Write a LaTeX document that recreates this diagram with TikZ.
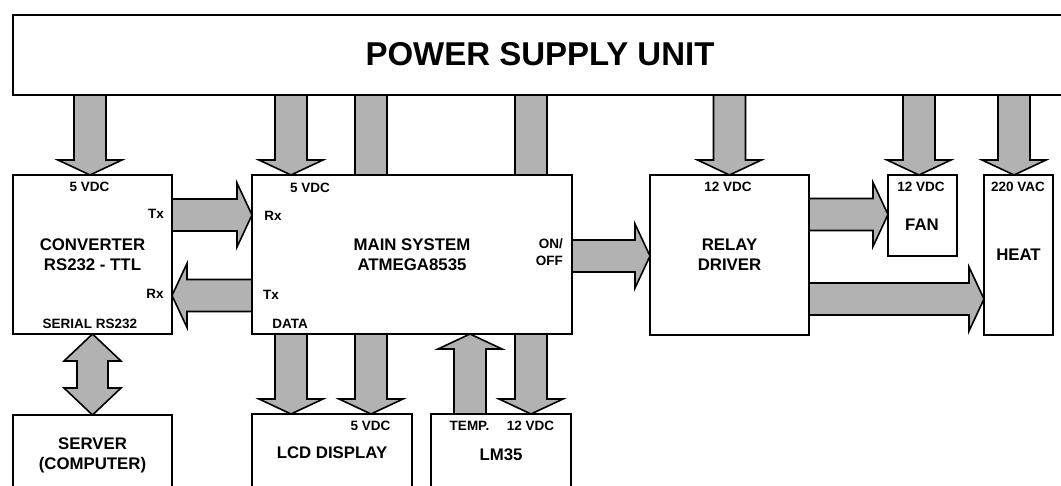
\documentclass[tikz,border=0pt]{standalone}
\usepackage{fontspec}
\setmainfont{Liberation Sans}
\usetikzlibrary{calc}
\newcommand\smallf{\fontsize{13.5}{15}\selectfont\bfseries}
\newcommand\midf{\fontsize{16.8}{20}\selectfont\bfseries}
\newcommand\bigf{\fontsize{33}{38}\selectfont\bfseries}
\tikzset{
  blk/.style={draw=black, line width=1.8pt, fill=white, rectangle, inner sep=0pt, outer sep=0pt, anchor=north west, align=center, font=\midf},
  fat/.style={draw=black, line width=1.6pt, fill=black!30, line join=miter},
  lbl/.style={font=\smallf, inner sep=0pt, text height=9.7pt, text depth=0pt},
  midlbl/.style={font=\midf, inner sep=0pt, text height=12pt, text depth=0pt},
}
% single block arrow from #1 to #2
\newcommand\fatarr[2]{%
  \coordinate (fh) at ($(#2)!15pt!(#1)$);
  \draw[fat] ($(#1)!16pt!90:(#2)$) -- ($(fh)!16pt!90:(#2)$) -- ($(fh)!32pt!90:(#2)$) -- (#2)
     -- ($(fh)!32pt!-90:(#2)$) -- ($(fh)!16pt!-90:(#2)$) -- ($(#1)!16pt!-90:(#2)$) -- cycle;}
% plain bar from #1 to #2
\newcommand\fatbar[2]{%
  \draw[fat] ($(#1)!16pt!90:(#2)$) -- ($(#2)!16pt!-90:(#1)$) -- ($(#2)!16pt!90:(#1)$) -- ($(#1)!16pt!-90:(#2)$) -- cycle;}
% double block arrow between #1 and #2
\newcommand\dblarr[2]{%
  \coordinate (fha) at ($(#1)!27pt!(#2)$);
  \coordinate (fhb) at ($(#2)!27pt!(#1)$);
  \draw[fat] (#1) -- ($(fha)!28.5pt!90:(#2)$) -- ($(fha)!15.5pt!90:(#2)$) -- ($(fhb)!15.5pt!-90:(#1)$)
     -- ($(fhb)!28.5pt!-90:(#1)$) -- (#2) -- ($(fhb)!28.5pt!90:(#1)$) -- ($(fhb)!15.5pt!90:(#1)$)
     -- ($(fha)!15.5pt!-90:(#2)$) -- ($(fha)!28.5pt!-90:(#2)$) -- cycle;}
\begin{document}
\begin{tikzpicture}[x=1pt,y=-1pt]
\useasboundingbox (0,0) rectangle (1061,486);
\clip (0,0) rectangle (1061,486);
% boxes
\node[blk, minimum width=1100pt, minimum height=80pt] (psu) at (12.7,15) {};
\node[blk, minimum width=159pt, minimum height=159pt] (conv) at (13,175) {CONVERTER\\RS232 - TTL};
\node[blk, minimum width=320pt, minimum height=159pt] (main) at (252,175) {MAIN SYSTEM\\ATMEGA8535};
\node[blk, minimum width=159pt, minimum height=160pt] (relay) at (650,175) {RELAY\\DRIVER};
\node[blk, minimum width=69pt, minimum height=81pt] (fan) at (888,175) {};
\node[blk, minimum width=69pt, minimum height=160pt] (heat) at (984,175) {HEAT};
\node[blk, minimum width=159pt, minimum height=80pt] (server) at (13,415) {SERVER\\(COMPUTER)};
\node[blk, minimum width=160pt, minimum height=78pt] (lcd) at (252,414) {LCD DISPLAY};
\node[blk, minimum width=140pt, minimum height=82pt] (lm) at (431,414) {LM35};
% connector coordinates
\coordinate (a1e) at ([xshift=-2.5pt]conv.north);  \coordinate (a1s) at (a1e |- psu.south);
\coordinate (a2e) at ([xshift=39pt]main.north west); \coordinate (a2s) at (a2e |- psu.south);
\coordinate (b1e) at ([xshift=119pt]main.north west); \coordinate (b1s) at (b1e |- psu.south);
\coordinate (b2e) at ([xshift=279pt]main.north west); \coordinate (b2s) at (b2e |- psu.south);
\coordinate (a3e) at (relay.north); \coordinate (a3s) at (a3e |- psu.south);
\coordinate (a4e) at ([xshift=-3.5pt]fan.north); \coordinate (a4s) at (a4e |- psu.south);
\coordinate (a5e) at ([xshift=-4.5pt]heat.north); \coordinate (a5s) at (a5e |- psu.south);
\coordinate (t1s) at ([yshift=-40pt]conv.north east); \coordinate (t1e) at (t1s -| main.west);
\coordinate (t2s) at ([yshift=-120.5pt]main.north west); \coordinate (t2e) at (t2s -| conv.east);
\coordinate (o1s) at ([yshift=-81pt]main.north east); \coordinate (o1e) at (o1s -| relay.west);
\coordinate (r1s) at ([yshift=-39.5pt]relay.north east); \coordinate (r1e) at (r1s -| fan.west);
\coordinate (r2s) at ([yshift=-124pt]relay.north east); \coordinate (r2e) at (r2s -| heat.west);
\coordinate (d1s) at ([xshift=39pt]main.south west); \coordinate (d1e) at (d1s |- lcd.north);
\coordinate (d2s) at ([xshift=119pt]main.south west); \coordinate (d2e) at (d2s |- lcd.north);
\coordinate (d3s) at ([xshift=39pt]lm.north west); \coordinate (d3e) at (d3s |- main.south);
\coordinate (d4s) at ([xshift=279pt]main.south west); \coordinate (d4e) at (d4s |- lm.north);
% connectors
\fatarr{a1s}{a1e}
\fatarr{a2s}{a2e}
\fatbar{b1s}{b1e}
\fatbar{b2s}{b2e}
\fatarr{a3s}{a3e}
\fatarr{a4s}{a4e}
\fatarr{a5s}{a5e}
\fatarr{t1s}{t1e}
\fatarr{t2s}{t2e}
\fatarr{o1s}{o1e}
\fatarr{r1s}{r1e}
\fatarr{r2s}{r2e}
\fatarr{d1s}{d1e}
\fatarr{d2s}{d2e}
\fatarr{d3s}{d3e}
\fatarr{d4s}{d4e}
\dblarr{conv.south}{server.north}
% labels
\node[font=\bigf, inner sep=0pt] (title) at (540,54) {POWER SUPPLY UNIT};
\node[lbl] (cv5) at (89.5,187) {5 VDC};
\node[lbl] (cvtx) at (156,214) {Tx};
\node[lbl] (cvrx) at (155,294) {Rx};
\node[lbl] (cvser) at (90,324) {SERIAL RS232};
\node[lbl] (mn5) at (310,188) {5 VDC};
\node[lbl] (mnrx) at (273,216) {Rx};
\node[lbl] (mntx) at (271,295) {Tx};
\node[lbl] (mndata) at (290,324) {DATA};
\node[lbl, anchor=east] (mnon) at (563,244) {ON/};
\node[lbl, anchor=east] (mnoff) at (563,261) {OFF};
\node[lbl] (rl12) at (728,187) {12 VDC};
\node[lbl] (fn12) at (921,187) {12 VDC};
\node[midlbl] (fntx) at (922,225) {FAN};
\node[lbl] (ht220) at (1018,187) {220 VAC};
\node[lbl] (lcd5) at (370.5,426) {5 VDC};
\node[lbl] (lmtemp) at (469.5,426) {TEMP.};
\node[lbl] (lm12) at (530.5,426) {12 VDC};
\end{tikzpicture}
\end{document}
